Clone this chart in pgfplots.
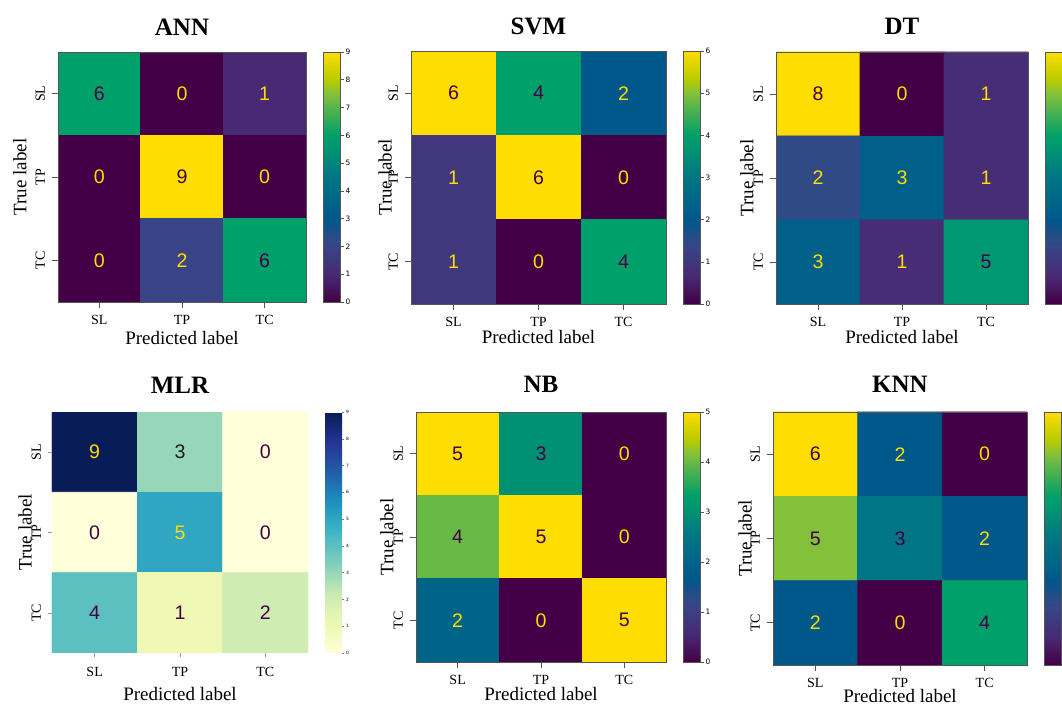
\documentclass[border=0pt]{standalone}
\usepackage{pgfplots}
\pgfplotsset{compat=1.18}
\usepackage{pgfplotstable}
\usepackage{fontspec}
\setmainfont{Liberation Serif}
\newfontfamily\numfont{Liberation Sans}
\newfontfamily\cbfont{DejaVu Sans}
\definecolor{vy}{RGB}{254,221,0}
\definecolor{vp}{RGB}{67,0,70}
\definecolor{vk}{HTML}{1E1E1E}
\definecolor{frame}{HTML}{555555}
% text colour code: 0 = yellow, 1 = purple, 2 = near black
\newcommand\celltext{\ifdim\tcol pt<0.5pt\color{vy}\else\ifdim\tcol pt<1.5pt\color{vp}\else\color{vk}\fi\fi\pgfplotspointmeta}

\pgfplotstableread{
x y v tc
0 0 6 1
1 0 0 0
2 0 1 0
0 1 0 0
1 1 9 1
2 1 0 0
0 2 0 0
1 2 2 0
2 2 6 1
}\annT
\pgfplotstableread{
x y v tc
0 0 6 1
1 0 4 1
2 0 2 0
0 1 1 0
1 1 6 1
2 1 0 0
0 2 1 0
1 2 0 0
2 2 4 1
}\svmT
\pgfplotstableread{
x y v tc
0 0 8 1
1 0 0 0
2 0 1 0
0 1 2 0
1 1 3 0
2 1 1 0
0 2 3 0
1 2 1 0
2 2 5 1
}\dtT
\pgfplotstableread{
x y v tc
0 0 9 0
1 0 3 2
2 0 0 1
0 1 0 1
1 1 5 0
2 1 0 1
0 2 4 1
1 2 1 1
2 2 2 1
}\mlrT
\pgfplotstableread{
x y v tc
0 0 5 1
1 0 3 1
2 0 0 0
0 1 4 1
1 1 5 1
2 1 0 0
0 2 2 0
1 2 0 0
2 2 5 1
}\nbT
\pgfplotstableread{
x y v tc
0 0 6 1
1 0 2 0
2 0 0 0
0 1 5 1
1 1 3 1
2 1 2 0
0 2 2 0
1 2 0 0
2 2 4 1
}\knnT

\pgfplotsset{
  colormap={ylgnbu}{rgb255=(255,255,217) rgb255=(237,248,177) rgb255=(199,233,180) rgb255=(127,205,187) rgb255=(65,182,196) rgb255=(29,145,192) rgb255=(34,94,168) rgb255=(37,52,148) rgb255=(8,29,88)},
  colormap={virid}{
    rgb255(0pt)=(67,0,70)
    rgb255(111pt)=(72,42,116)
    rgb255(222pt)=(57,68,134)
    rgb255(250pt)=(47,74,133)
    rgb255(333pt)=(0,87,138)
    rgb255(375pt)=(0,96,138)
    rgb255(500pt)=(0,117,132)
    rgb255(625pt)=(0,152,112)
    rgb255(667pt)=(0,160,106)
    rgb255(778pt)=(86,180,76)
    rgb255(833pt)=(132,193,58)
    rgb255(889pt)=(185,204,0)
    rgb255(1000pt)=(254,221,0)
  },
  cm/.style={
    scale only axis, axis on top,
    anchor=north west,
    xmin=-0.5, xmax=2.5, ymin=-0.5, ymax=2.5, y dir=reverse,
    xtick={0,1,2}, ytick={0,1,2},
    xticklabels={SL,TP,TC}, yticklabels={SL,TP,TC},
    xtick pos=left, ytick pos=left,
    tick align=outside, major tick length=3pt,
    every tick/.style={frame, line width=0.4pt},
    axis line style={frame, line width=0.4pt},
    xticklabel style={font=\fontsize{7}{8}\selectfont},
    yticklabel style={font=\fontsize{7}{8}\selectfont, rotate=90, anchor=south},
    xlabel={Predicted label}, ylabel={True label},
    label style={font=\fontsize{9.5}{11}\selectfont},
    title style={font=\bfseries\fontsize{12.5}{14}\selectfont},
    colormap name=virid,
    colorbar,
    colorbar style={
      scale only axis,
      width=8.5pt, at={([xshift=8.25pt]parent axis.north east)}, anchor=north west,
      axis line style={frame, line width=0.4pt},
      tick align=outside, major tick length=1.8pt,
      every tick/.style={frame, line width=0.3pt},
      ytick pos=right, yticklabel pos=right,
      xlabel={}, ylabel={}, title={},
      yticklabel style={font=\cbfont\fontsize{3.7}{4}\selectfont, anchor=west, inner sep=0.8pt},
      /pgf/number format/assume math mode=true,
    },
  },
  celltext/.style={
    only marks, mark=none, point meta=explicit symbolic,
    visualization depends on={\thisrow{tc} \as \tcol},
    nodes near coords={\celltext},
    every node near coord/.append style={anchor=center, font=\numfont\fontsize{9.8}{11}\selectfont},
  },
}

\begin{document}
\begin{tikzpicture}
\useasboundingbox (0,0) rectangle (531pt,-352.5pt);
\clip (0,0) rectangle (531pt,-352.5pt);

% ANN
\begin{axis}[cm, at={(29pt,-26pt)}, width=124pt, height=125pt, title={ANN},
  title style={at={([yshift=2pt]axis description cs:0.5,1)}, anchor=base},
  xlabel style={at={([yshift=-21.5pt]axis description cs:0.5,0)}, anchor=base},
  ylabel style={at={([xshift=-15.8pt]axis description cs:0,0.5)}, anchor=base},
  point meta min=0, point meta max=9, colorbar style={ytick={0,...,9}}]
\addplot[matrix plot*, mesh/cols=3, point meta=explicit] table[x=x,y=y,meta=v]{\annT};
\addplot[celltext] table[x=x,y=y,meta=v]{\annT};
\end{axis}

% SVM
\begin{axis}[cm, at={(205.5pt,-25.5pt)}, width=127.5pt, height=126.5pt, title={SVM},
  title style={at={([yshift=2pt]axis description cs:0.5,1)}, anchor=base},
  xlabel style={at={([yshift=-19.8pt]axis description cs:0.5,0)}, anchor=base},
  ylabel style={at={([xshift=-9.7pt]axis description cs:0,0.5)}, anchor=base},
  point meta min=0, point meta max=6, colorbar style={ytick={0,...,6}}]
\addplot[matrix plot*, mesh/cols=3, point meta=explicit] table[x=x,y=y,meta=v]{\svmT};
\addplot[celltext] table[x=x,y=y,meta=v]{\svmT};
\end{axis}

% DT (colorbar labels lie beyond the cropped edge in the reference)
\begin{axis}[cm, at={(388pt,-26pt)}, width=126pt, height=126pt, title={DT},
  title style={at={([yshift=2.5pt]axis description cs:0.5,1)}, anchor=base},
  xlabel style={at={([yshift=-19.8pt]axis description cs:0.5,0)}, anchor=base},
  ylabel style={at={([xshift=-11.3pt]axis description cs:0,0.5)}, anchor=base},
  point meta min=0, point meta max=8, colorbar style={ytick={0,...,8}, yticklabels={}}]
\addplot[matrix plot*, mesh/cols=3, point meta=explicit] table[x=x,y=y,meta=v]{\dtT};
\addplot[celltext] table[x=x,y=y,meta=v]{\dtT};
\end{axis}

% MLR
\begin{axis}[cm, at={(26pt,-206pt)}, width=128pt, height=120.5pt, title={MLR},
  colormap name=ylgnbu,
  axis line style={draw=none},
  every tick/.style={black!40, line width=0.3pt}, major tick length=2pt,
  title style={at={([yshift=3.3pt]axis description cs:0.5,1)}, anchor=base},
  xlabel style={at={([yshift=-24pt]axis description cs:0.5,0)}, anchor=base},
  xticklabel style={yshift=-1.5pt},
  ylabel style={at={([xshift=-10.2pt]axis description cs:0,0.5)}, anchor=base},
  point meta min=0, point meta max=9,
  colorbar style={ytick={0,...,9}, axis line style={draw=none},
    major tick length=1pt, every tick/.style={black!50, line width=0.2pt},
    yticklabel style={font=\cbfont\fontsize{2.2}{2.5}\selectfont}}]
\addplot[matrix plot*, mesh/cols=3, point meta=explicit] table[x=x,y=y,meta=v]{\mlrT};
\addplot[celltext] table[x=x,y=y,meta=v]{\mlrT};
\end{axis}

% NB
\begin{axis}[cm, at={(208pt,-206pt)}, width=125pt, height=125pt, title={NB},
  title style={at={([yshift=3.5pt]axis description cs:0.5,1)}, anchor=base},
  xlabel style={at={([yshift=-19.5pt]axis description cs:0.5,0)}, anchor=base},
  ylabel style={at={([xshift=-11.3pt]axis description cs:0,0.5)}, anchor=base},
  point meta min=0, point meta max=5, colorbar style={ytick={0,...,5}}]
\addplot[matrix plot*, mesh/cols=3, point meta=explicit] table[x=x,y=y,meta=v]{\nbT};
\addplot[celltext] table[x=x,y=y,meta=v]{\nbT};
\end{axis}

% KNN (colorbar labels lie beyond the cropped edge in the reference)
\begin{axis}[cm, at={(386.5pt,-206pt)}, width=127pt, height=126.5pt, title={KNN},
  title style={at={([yshift=3.5pt]axis description cs:0.5,1)}, anchor=base},
  xlabel style={at={([yshift=-18.8pt]axis description cs:0.5,0)}, anchor=base},
  ylabel style={at={([xshift=-10.7pt]axis description cs:0,0.5)}, anchor=base},
  point meta min=0, point meta max=6, colorbar style={ytick={0,...,6}, yticklabels={}}]
\addplot[matrix plot*, mesh/cols=3, point meta=explicit] table[x=x,y=y,meta=v]{\knnT};
\addplot[celltext] table[x=x,y=y,meta=v]{\knnT};
\end{axis}
\end{tikzpicture}
\end{document}
